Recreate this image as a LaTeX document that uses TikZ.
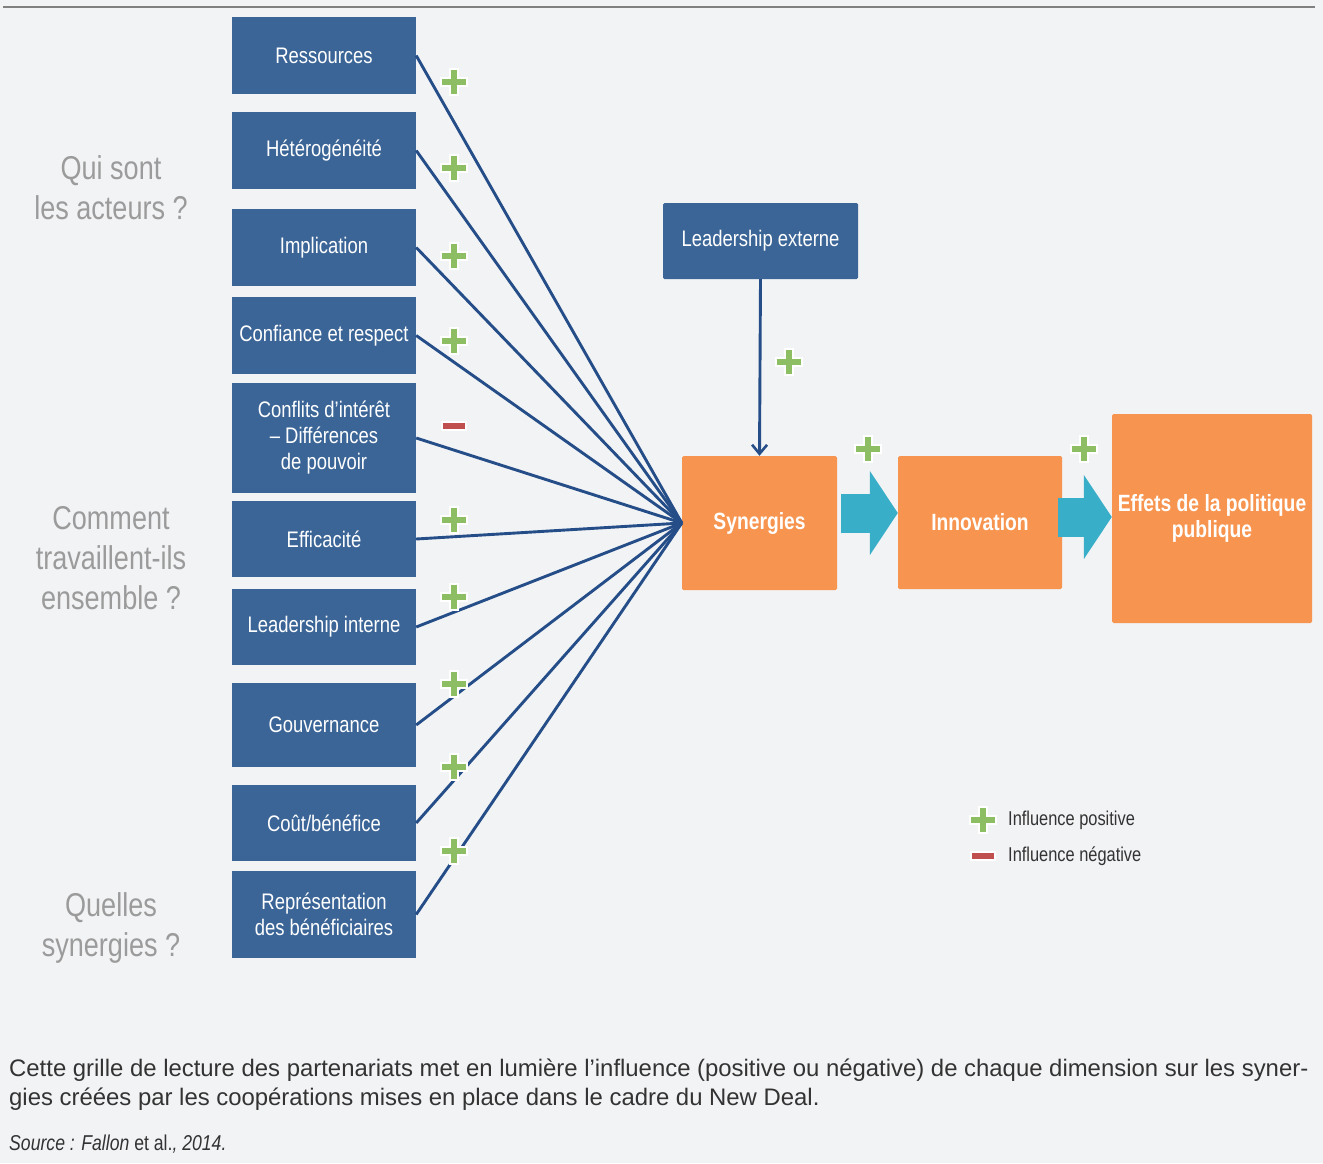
\documentclass[tikz,border=0pt]{standalone}
\usepackage{fontspec}
\setmainfont[FakeStretch=0.82]{Liberation Sans}
\newfontfamily\captionfont{Liberation Sans}
\usepackage{tikz}
\usepackage{xcolor}
\usetikzlibrary{positioning,arrows.meta}
\definecolor{boxblue}{HTML}{3B6597}
\definecolor{linkblue}{HTML}{254E88}
\definecolor{synorange}{HTML}{F79550}
\definecolor{flowcyan}{HTML}{38AEC8}
\definecolor{plusgreen}{HTML}{8DBE63}
\definecolor{minusred}{HTML}{C0504D}
\definecolor{questiongray}{HTML}{9B9B9B}
\definecolor{pagegray}{HTML}{F2F3F5}
\definecolor{textgray}{HTML}{333333}
\tikzset{
    factor-box/.style = {fill=boxblue, text=white, rectangle, minimum width=184pt, align=center, inner sep=2pt, font=\fontsize{22.5}{26}\selectfont},
    result-box/.style = {fill=synorange, text=white, rectangle, rounded corners=1.5pt, align=center, inner sep=2pt, font=\fontsize{23.5}{26}\selectfont\bfseries},
    question-label/.style = {text=questiongray, align=center, font=\fontsize{33}{40}\selectfont},
    link/.style = {draw=linkblue, line width=2.9pt},
    flow-arrow/.style = {draw=flowcyan, line width=39pt, -{Triangle[width=83pt, length=28pt]}},
    legend-text/.style = {text=textgray, anchor=west, inner sep=0pt, font=\fontsize{20}{24}\selectfont},
    plus-mark/.pic = {\filldraw[fill=plusgreen, draw=white, line width=1.2pt] (-4,-13) -- (4,-13) -- (4,-4) -- (13,-4) -- (13,4) -- (4,4) -- (4,13) -- (-4,13) -- (-4,4) -- (-13,4) -- (-13,-4) -- (-4,-4) -- cycle;},
    minus-mark/.pic = {\filldraw[fill=minusred, draw=white, line width=1.2pt] (-12,-4) rectangle (12,4);},
}
\begin{document}
\begin{tikzpicture}[x=1pt, y=-1pt]
\fill[pagegray] (0,0) rectangle (1323,1163);
\draw[gray, line width=1.5pt] (3,7) -- (1315,7);

\node[question-label] (qui) at (111,188) {Qui sont\\les acteurs ?};
\node[question-label] (comment) at (111,558) {Comment\\travaillent-ils\\ensemble ?};
\node[question-label] (quelles) at (111,928) {Quelles\\synergies ?};

\node[factor-box, minimum height=77pt] (ressources) at (324,55.5) {Ressources};
\node[factor-box, minimum height=77pt] (heterogeneite) at (324,150.5) {Hétérogénéité};
\node[factor-box, minimum height=77pt] (implication) at (324,247.5) {Implication};
\node[factor-box, minimum height=77pt] (confiance) at (324,335.5) {Confiance et respect};
\node[factor-box, minimum height=110pt] (conflits) at (324,438) {Conflits d’intérêt\\– Différences\\de pouvoir};
\node[factor-box, minimum height=76pt] (efficacite) at (324,539) {Efficacité};
\node[factor-box, minimum height=76pt] (leadint) at (324,627) {Leadership interne};
\node[factor-box, minimum height=84pt] (gouvernance) at (324,725) {Gouvernance};
\node[factor-box, minimum height=76pt] (cout) at (324,823) {Coût/bénéfice};
\node[factor-box, minimum height=87pt] (representation) at (324,914.5) {Représentation\\des bénéficiaires};

\node[factor-box, rounded corners=1.5pt, minimum width=195pt, minimum height=76pt] (leadext) at (760.5,241) {Leadership externe};
\node[result-box, minimum width=155pt, minimum height=134pt] (synergies) at (759.5,523) {Synergies};
\node[result-box, minimum width=164pt, minimum height=133pt] (innovation) at (980,522.5) {Innovation};
\node[result-box, minimum width=200pt, minimum height=209pt] (effets) at (1212,518.5) {Effets de la politique\\publique};

\foreach \n in {ressources,heterogeneite,implication,confiance,conflits,efficacite,leadint,gouvernance,cout,representation}
    \draw[link] (\n.east) -- (synergies.west);
\draw[link, -{Straight Barb[length=9pt, width=15pt, line width=2.6pt]}] (leadext.south) -- (synergies.north);

\draw[flow-arrow] ([xshift=4pt, yshift=10pt]synergies.east) -- ([yshift=9.5pt]innovation.west);
\draw[flow-arrow] ([xshift=-4pt, yshift=5.5pt]innovation.east) -- ([yshift=1.5pt]effets.west);

\foreach \y in {82,168,256,341,520,597,684,767,851}
    \pic at (454,\y) {plus-mark};
\pic at (454,426) {minus-mark};
\pic at (789,362) {plus-mark};
\pic at (868,449) {plus-mark};
\pic at (1084,449) {plus-mark};

\pic at (983,820) {plus-mark};
\pic at (983,856) {minus-mark};
\node[legend-text] (legpos) at (1008,820) {Influence positive};
\node[legend-text] (legneg) at (1008,856) {Influence négative};

\node[anchor=west, align=left, inner sep=0pt, text=textgray, font=\captionfont\fontsize{23.9}{29}\selectfont] (legende) at (9,1084.5) {Cette grille de lecture des partenariats met en lumière l’influence (positive ou négative) de chaque dimension sur les syner-\\gies créées par les coopérations mises en place dans le cadre du New Deal.};
\node[anchor=west, inner sep=0pt, text=textgray, font=\fontsize{21.5}{24}\selectfont] (source) at (9,1144) {\itshape Source : Fallon \upshape et al.\itshape , 2014.};
\end{tikzpicture}
\end{document}
